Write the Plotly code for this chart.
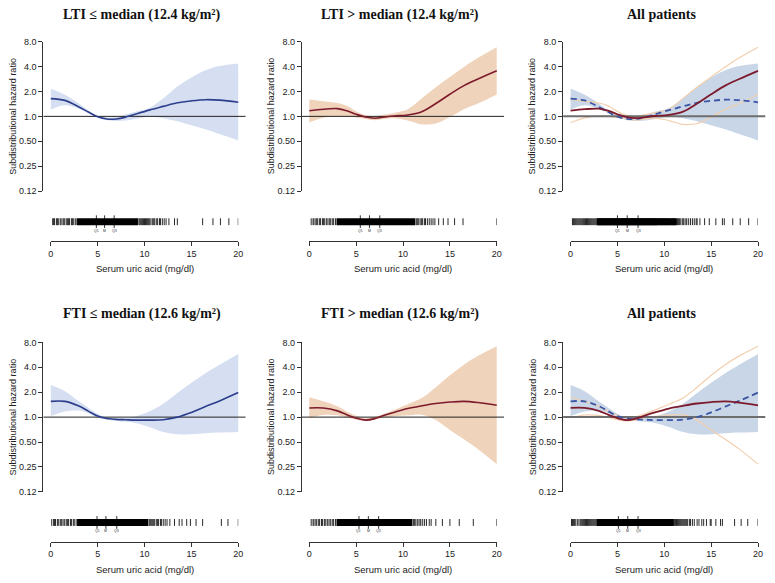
import math
import plotly.graph_objects as go

W, H = 775, 583

# ---------------- data ----------------
X_GRID = [0, 1.5, 3, 4, 5, 6, 7, 8, 9, 10.5, 12, 13.5, 15, 16.5, 18, 20]

LTI_LOW_HR = [1.64, 1.56, 1.30, 1.13, 0.99, 0.93, 0.93, 0.98, 1.06, 1.19, 1.32, 1.46, 1.54, 1.59, 1.57, 1.48]
LTI_LOW_UP = [2.15, 1.82, 1.43, 1.18, 1.02, 0.97, 0.98, 1.06, 1.14, 1.26, 1.65, 2.30, 2.95, 3.60, 4.05, 4.35]
LTI_LOW_LO = [1.21, 1.36, 1.24, 1.10, 0.98, 0.90, 0.88, 0.89, 0.93, 0.98, 0.95, 0.87, 0.78, 0.70, 0.61, 0.51]

LTI_HIGH_HR = [1.17, 1.22, 1.24, 1.17, 1.06, 0.98, 0.95, 0.98, 1.01, 1.04, 1.14, 1.43, 1.85, 2.35, 2.83, 3.55]
LTI_HIGH_UP = [1.60, 1.52, 1.45, 1.34, 1.15, 1.03, 1.00, 1.05, 1.10, 1.22, 1.65, 2.25, 3.00, 3.95, 5.10, 6.86]
LTI_HIGH_LO = [0.84, 0.96, 1.01, 1.00, 0.97, 0.93, 0.90, 0.93, 0.95, 0.89, 0.80, 0.82, 0.98, 1.22, 1.43, 1.84]

FTI_LOW_HR = [1.55, 1.55, 1.36, 1.18, 1.03, 0.96, 0.94, 0.93, 0.92, 0.92, 0.93, 1.00, 1.14, 1.34, 1.57, 1.98]
FTI_LOW_UP = [2.44, 2.06, 1.55, 1.30, 1.10, 0.99, 0.96, 0.98, 1.02, 1.17, 1.45, 1.95, 2.60, 3.40, 4.30, 5.80]
FTI_LOW_LO = [1.03, 1.17, 1.20, 1.11, 0.98, 0.92, 0.90, 0.88, 0.85, 0.76, 0.66, 0.62, 0.62, 0.64, 0.65, 0.66]

FTI_HIGH_HR = [1.29, 1.29, 1.19, 1.07, 0.97, 0.92, 0.96, 1.05, 1.14, 1.27, 1.37, 1.46, 1.52, 1.55, 1.50, 1.39]
FTI_HIGH_UP = [1.74, 1.55, 1.35, 1.17, 1.04, 0.97, 1.01, 1.10, 1.22, 1.43, 1.70, 2.30, 3.20, 4.30, 5.50, 7.20]
FTI_HIGH_LO = [0.98, 1.06, 1.05, 0.99, 0.93, 0.90, 0.93, 0.99, 1.02, 1.05, 1.07, 0.92, 0.70, 0.54, 0.41, 0.27]

# rug: individual tick values and solid (very dense) intervals
RUG_LTI_LOW_TICKS = [0.2, 0.3, 0.4, 0.6, 0.7, 0.8, 1.0, 1.1, 1.3, 1.4, 1.5, 1.7, 1.8, 1.9, 2.0, 2.2, 2.3, 2.4, 2.6, 2.7,
                     9.4, 9.5, 9.6, 9.7, 9.8, 9.9, 10.0, 10.1, 10.2, 10.3, 10.4, 10.5, 10.6, 10.8, 10.9, 11.0, 11.1,
                     11.3, 11.4, 11.6, 11.7, 11.9, 12.1, 12.3, 12.6, 13.2, 13.5, 16.2, 17.3, 18.1, 19.0, 20.0]
RUG_LTI_LOW_SOLID = [(2.8, 9.3)]
RUG_LTI_HIGH_TICKS = [0.2, 0.4, 0.5, 0.7, 0.8, 0.9, 1.1, 1.2, 1.4, 1.5, 1.6, 1.8, 1.9, 2.1, 2.2, 2.3, 2.5, 2.6, 2.8,
                      11.4, 11.5, 11.6, 11.7, 11.9, 12.0, 12.1, 12.3, 12.4, 12.6, 12.8, 13.0, 13.2, 13.4,
                      13.8, 14.3, 14.8, 15.5, 16.4, 20.0]
RUG_LTI_HIGH_SOLID = [(2.9, 11.3)]
RUG_FTI_LOW_TICKS = [0.1, 0.3, 0.4, 0.5, 0.7, 0.8, 1.0, 1.1, 1.2, 1.4, 1.5, 1.7, 1.8, 1.9, 2.1, 2.2, 2.4, 2.5, 2.7,
                     10.5, 10.6, 10.7, 10.8, 10.9, 11.0, 11.1, 11.3, 11.4, 11.5, 11.7, 11.8, 12.0, 12.2, 12.4, 12.7,
                     13.2, 13.7, 14.0, 14.5, 14.9, 15.5, 16.2, 18.2, 18.9, 20.0]
RUG_FTI_LOW_SOLID = [(2.8, 10.4)]
RUG_FTI_HIGH_TICKS = [0.2, 0.4, 0.5, 0.7, 0.8, 1.0, 1.1, 1.3, 1.4, 1.6, 1.7, 1.9, 2.0, 2.2, 2.3, 2.5, 2.6, 2.8,
                      11.1, 11.2, 11.3, 11.5, 11.6, 11.8, 11.9, 12.1, 12.3, 12.5, 12.8, 13.0,
                      13.5, 14.2, 15.0, 16.0, 17.5, 20.0]
RUG_FTI_HIGH_SOLID = [(2.9, 11.0)]

Q_LTI_LOW = [4.86, 5.74, 6.76]
Q_LTI_HIGH = [5.44, 6.42, 7.52]
Q_LTI_ALL = [5.0, 6.04, 7.2]
Q_FTI_LOW = [4.93, 5.88, 7.04]
Q_FTI_HIGH = [5.3, 6.3, 7.4]
Q_FTI_ALL = [5.1, 6.1, 7.2]
Q_LABELS = ["Q1", "M", "Q3"]

Y_TICK_VALS = [0.125, 0.25, 0.5, 1, 2, 4, 8]
Y_TICK_TEXT = ["0.12", "0.25", "0.50", "1.0", "2.0", "4.0", "8.0"]
X_TICK_VALS = [0, 5, 10, 15, 20]
X_RANGE = [0, 20]

TITLES = ["LTI ≤ median (12.4 kg/m²)", "LTI > median (12.4 kg/m²)", "All patients",
          "FTI ≤ median (12.6 kg/m²)", "FTI > median (12.6 kg/m²)", "All patients"]
Y_TITLE = "Subdistributional hazard ratio"
X_TITLE = "Serum uric acid (mg/dl)"

# ---------------- styling / geometry ----------------
BLUE = "#2c3e8c"
BLUE_DASH = "#3a55a3"
BLUE_BAND = "#d6dff1"
BLUE_BAND_ALL = "#c8d6e8"
RED = "#7d1a2c"
BEIGE_BAND = "#f0d3bb"
BEIGE_LINE = "#f2cfae"
AXC = "#333333"
SANS = "Liberation Sans, Arial, sans-serif"
SERIF = "Liberation Serif, Times New Roman, serif"

PPU = 9.47                       # px per x unit
EXT = 0.8                        # R's 4% range extension
COL_X0 = [48.3, 309.5, 573.5]
ROW_DY = [0, 306]
TITLE_Y = [10, 314]
Y_TOP, Y_BOT = 37.3, 189.3
RUG_T, RUG_B = 217, 224
Q_T, Q_B = 214, 227
Q_LAB_Y = 229.5
AX_Y = 240
XT_Y = 268

fig = go.Figure()
layout = dict(width=W, height=H, margin=dict(l=0, r=0, t=0, b=0),
              paper_bgcolor="white", plot_bgcolor="white", showlegend=False)
annotations = []


def kname(k):
    return "" if k == 1 else str(k)


def band(xs, lo, up, color, xa, ya):
    fig.add_trace(go.Scatter(x=xs, y=lo, mode="lines", line=dict(width=0, color=color, shape="spline"),
                             xaxis=xa, yaxis=ya, hoverinfo="skip"))
    fig.add_trace(go.Scatter(x=xs, y=up, mode="lines", line=dict(width=0, color=color, shape="spline"),
                             fill="tonexty", fillcolor=color, xaxis=xa, yaxis=ya, hoverinfo="skip"))


def curve(xs, ys, color, width, xa, ya, dash="solid"):
    fig.add_trace(go.Scatter(x=xs, y=ys, mode="lines", line=dict(width=width, color=color, shape="spline", dash=dash),
                             xaxis=xa, yaxis=ya, hoverinfo="skip"))


PANELS = [
    dict(kind="single", hr=LTI_LOW_HR, lo=LTI_LOW_LO, up=LTI_LOW_UP, line=BLUE, bandc=BLUE_BAND,
         ticks=RUG_LTI_LOW_TICKS, solid=RUG_LTI_LOW_SOLID, q=Q_LTI_LOW),
    dict(kind="single", hr=LTI_HIGH_HR, lo=LTI_HIGH_LO, up=LTI_HIGH_UP, line=RED, bandc=BEIGE_BAND,
         ticks=RUG_LTI_HIGH_TICKS, solid=RUG_LTI_HIGH_SOLID, q=Q_LTI_HIGH),
    dict(kind="all", a=(LTI_LOW_HR, LTI_LOW_LO, LTI_LOW_UP), b=(LTI_HIGH_HR, LTI_HIGH_LO, LTI_HIGH_UP),
         ticks=sorted(set(RUG_LTI_LOW_TICKS + RUG_LTI_HIGH_TICKS)), solid=RUG_LTI_LOW_SOLID + RUG_LTI_HIGH_SOLID,
         q=Q_LTI_ALL),
    dict(kind="single", hr=FTI_LOW_HR, lo=FTI_LOW_LO, up=FTI_LOW_UP, line=BLUE, bandc=BLUE_BAND,
         ticks=RUG_FTI_LOW_TICKS, solid=RUG_FTI_LOW_SOLID, q=Q_FTI_LOW),
    dict(kind="single", hr=FTI_HIGH_HR, lo=FTI_HIGH_LO, up=FTI_HIGH_UP, line=RED, bandc=BEIGE_BAND,
         ticks=RUG_FTI_HIGH_TICKS, solid=RUG_FTI_HIGH_SOLID, q=Q_FTI_HIGH),
    dict(kind="all", a=(FTI_LOW_HR, FTI_LOW_LO, FTI_LOW_UP), b=(FTI_HIGH_HR, FTI_HIGH_LO, FTI_HIGH_UP),
         ticks=sorted(set(RUG_FTI_LOW_TICKS + RUG_FTI_HIGH_TICKS)), solid=RUG_FTI_LOW_SOLID + RUG_FTI_HIGH_SOLID,
         q=Q_FTI_ALL),
]

for i, p in enumerate(PANELS):
    col, row = i % 3, i // 3
    dy = ROW_DY[row]
    x0 = COL_X0[col]
    x20 = x0 + 20 * PPU
    km, kr = 2 * i + 1, 2 * i + 2
    xm, ym = "x" + kname(km), "y" + kname(km)
    xr, yr = "x" + kname(kr), "y" + kname(kr)

    layout["xaxis" + kname(km)] = dict(domain=[(x0 - EXT * PPU) / W, (x20 + EXT * PPU) / W],
                                       range=[X_RANGE[0] - EXT, X_RANGE[1] + EXT], visible=False,
                                       anchor=ym, fixedrange=True)
    layout["yaxis" + kname(km)] = dict(domain=[1 - (Y_BOT + dy) / H, 1 - (Y_TOP + dy) / H], type="log",
                                       range=[math.log10(Y_TICK_VALS[0]), math.log10(Y_TICK_VALS[-1])],
                                       anchor=xm, showline=True, linecolor=AXC, linewidth=1,
                                       ticks="outside", ticklen=4, tickwidth=1, tickcolor=AXC,
                                       tickvals=Y_TICK_VALS, ticktext=Y_TICK_TEXT,
                                       tickfont=dict(family=SANS, size=9, color="#222"),
                                       showgrid=False, zeroline=False)
    layout["xaxis" + kname(kr)] = dict(domain=[x0 / W, x20 / W], range=X_RANGE, anchor=yr,
                                       showline=True, linecolor=AXC, linewidth=1,
                                       ticks="outside", ticklen=4, tickwidth=1, tickcolor=AXC,
                                       tickvals=X_TICK_VALS, tickfont=dict(family=SANS, size=9, color="#222"),
                                       showgrid=False, zeroline=False)
    layout["yaxis" + kname(kr)] = dict(domain=[1 - (AX_Y + dy) / H, 1 - (Q_T - 2 + dy) / H],
                                       range=[AX_Y + dy, Q_T - 2 + dy], visible=False, anchor=xr)

    xline = [X_RANGE[0] - EXT, X_RANGE[1] + EXT]
    if p["kind"] == "single":
        band(X_GRID, p["lo"], p["up"], p["bandc"], xm, ym)
        fig.add_trace(go.Scatter(x=xline, y=[1, 1], mode="lines", line=dict(color="#222", width=1),
                                 xaxis=xm, yaxis=ym, hoverinfo="skip"))
        curve(X_GRID, p["hr"], p["line"], 1.6, xm, ym)
    else:
        a_hr, a_lo, a_up = p["a"]
        b_hr, b_lo, b_up = p["b"]
        band(X_GRID, a_lo, a_up, BLUE_BAND_ALL, xm, ym)
        curve(X_GRID, b_lo, BEIGE_LINE, 1.2, xm, ym)
        curve(X_GRID, b_up, BEIGE_LINE, 1.2, xm, ym)
        fig.add_trace(go.Scatter(x=xline, y=[1, 1], mode="lines", line=dict(color="#6e6e6e", width=2),
                                 xaxis=xm, yaxis=ym, hoverinfo="skip"))
        curve(X_GRID, a_hr, BLUE_DASH, 1.8, xm, ym, dash="6px,4px")
        curve(X_GRID, b_hr, RED, 1.8, xm, ym)

    # rug ticks
    rx, ry = [], []
    for v in p["ticks"]:
        rx += [v, v, None]
        ry += [RUG_B + dy, RUG_T + dy, None]
    fig.add_trace(go.Scatter(x=rx, y=ry, mode="lines", line=dict(color="#111", width=0.9),
                             xaxis=xr, yaxis=yr, hoverinfo="skip"))
    for a, b in p["solid"]:
        fig.add_trace(go.Scatter(x=[a, b, b, a, a], y=[RUG_B + dy, RUG_B + dy, RUG_T + dy, RUG_T + dy, RUG_B + dy],
                                 mode="lines", fill="toself", fillcolor="#000", line=dict(width=0, color="#000"),
                                 xaxis=xr, yaxis=yr, hoverinfo="skip"))
    qx, qy = [], []
    for v in p["q"]:
        qx += [v, v, None]
        qy += [Q_B + dy, Q_T + dy, None]
    fig.add_trace(go.Scatter(x=qx, y=qy, mode="lines", line=dict(color="#000", width=0.8),
                             xaxis=xr, yaxis=yr, hoverinfo="skip"))
    for v, lab in zip(p["q"], Q_LABELS):
        annotations.append(dict(x=v, y=Q_LAB_Y + dy, xref=xr, yref=yr, text=lab, showarrow=False,
                                font=dict(family=SANS, size=3.5, color="#333"), xanchor="center",
                                yanchor="middle"))

    # texts
    cx = (x0 + x20) / 2
    annotations.append(dict(x=(cx - 3) / W, y=1 - TITLE_Y[row] / H, xref="paper", yref="paper",
                            text="<b>" + TITLES[i] + "</b>", showarrow=False,
                            font=dict(family=SERIF, size=14, color="#111"), xanchor="center", yanchor="middle"))
    annotations.append(dict(x=(x0 - EXT * PPU - 31) / W, y=1 - (113 + dy) / H, xref="paper", yref="paper",
                            text=Y_TITLE, textangle=-90, showarrow=False,
                            font=dict(family=SANS, size=9, color="#222"), xanchor="center", yanchor="middle"))
    annotations.append(dict(x=cx / W, y=1 - (XT_Y + dy) / H, xref="paper", yref="paper",
                            text=X_TITLE, showarrow=False,
                            font=dict(family=SANS, size=9.5, color="#222"), xanchor="center", yanchor="middle"))

layout["annotations"] = annotations
fig.update_layout(**layout)
fig.write_html("out.html", config={"displayModeBar": False, "staticPlot": True},
               post_script="document.body.style.margin='0';document.body.style.overflow='hidden';")
